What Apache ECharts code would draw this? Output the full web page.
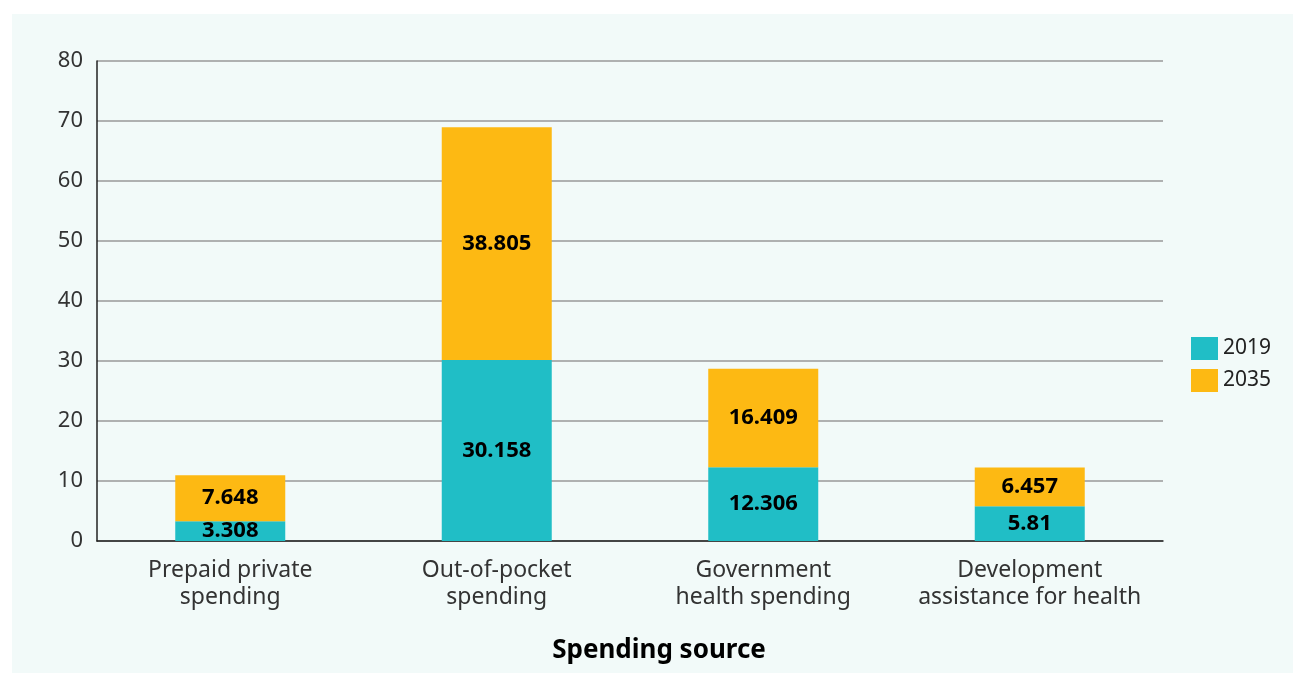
<!DOCTYPE html>
<html><head><meta charset="utf-8">
<script src="https://cdn.jsdelivr.net/npm/echarts@6/dist/echarts.min.js"></script>
<style>html,body{margin:0;padding:0;background:#fff}#c{width:1293px;height:673px}</style>
</head><body><div id="c"></div>
<script>
const categories = ['Prepaid private\nspending', 'Out-of-pocket\nspending', 'Government\nhealth spending', 'Development\nassistance for health'];
const values2019 = [3.308, 30.158, 12.306, 5.81];
const values2035 = [7.648, 38.805, 16.409, 6.457];
const yTicks = [0, 10, 20, 30, 40, 50, 60, 70, 80];
const FONT = '"Noto Sans", sans-serif';
const chart = echarts.init(document.getElementById('c'));
const lbl = {show: true, position: 'inside', color: '#000', fontWeight: 'bold', fontSize: 22, fontFamily: FONT};
chart.setOption({
  backgroundColor: '#ffffff',
  animation: false,
  graphic: [
    {type: 'rect', z: -10, shape: {x: 12, y: 14, width: 1281, height: 659}, style: {fill: '#f2faf9'}},
    {type: 'text', x: 659, y: 651, style: {text: 'Spending source', fill: '#000', font: 'bold 26px ' + FONT, textAlign: 'center', textVerticalAlign: 'middle'}}
  ],
  grid: {left: 97, right: 130, top: 61, bottom: 132},
  legend: {
    orient: 'vertical', left: 1186, top: 332, itemWidth: 27, itemHeight: 23, itemGap: 9, icon: 'rect',
    textStyle: {fontSize: 21, color: '#222', fontFamily: FONT},
    data: ['2019', '2035']
  },
  xAxis: {
    type: 'category', data: categories,
    axisLine: {lineStyle: {color: '#222', width: 1.5}},
    axisTick: {show: false},
    axisLabel: {interval: 0, fontSize: 23, color: '#333', fontFamily: FONT, lineHeight: 27, margin: 16}
  },
  yAxis: {
    type: 'value', min: 0, max: 80, interval: 10,
    axisLine: {show: true, lineStyle: {color: '#222', width: 1.5}},
    axisTick: {show: false},
    splitLine: {lineStyle: {color: '#999', width: 1.5}},
    axisLabel: {fontSize: 22, color: '#333', fontFamily: FONT, margin: 14, verticalAlign: 'middle', padding: [0, 0, 6, 0],
      formatter: v => yTicks.includes(v) ? String(v) : ''}
  },
  series: [
    {name: '2019', type: 'bar', stack: 's', barWidth: 110, data: values2019, itemStyle: {color: '#20bec6'}, label: lbl},
    {name: '2035', type: 'bar', stack: 's', barWidth: 110, data: values2035, itemStyle: {color: '#fdb913'}, label: lbl}
  ]
});
</script></body></html>
